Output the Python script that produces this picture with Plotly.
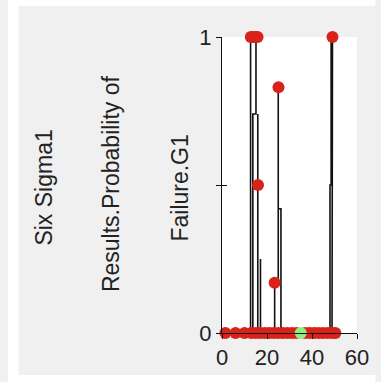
import plotly.graph_objects as go

# ---- data ----
# path of the black result line (run order)
line_x = [0, 12.7, 12.7, 15.1, 15.1, 13.7, 13.7, 15.9, 15.9, 15.9, 17.1, 17.1, 17.1,
          23.4, 23.4, 25.0, 25.0, 25.0, 26.2, 26.2, 48.0, 48.0, 48.5, 48.5, 49.1, 49.1,
          48.9, 48.9, 52]
line_y = [0, 0, 1, 1, 0.74, 0.74, 0, 0, 0.74, 0, 0, 0.25, 0,
          0, 0.17, 0.17, 0.83, 0.42, 0.42, 0, 0, 0.5, 0.5, 1, 1, 0.74,
          0.74, 0, 0]

# red points: zero results, then non-zero results
zero_x = [1.5, 6, 10, 13, 15, 17, 19, 21, 23, 25, 27, 29, 31, 33, 37, 39, 41, 43,
          45, 47, 49, 50.4]
hit_x = [12.8, 13.8, 14.8, 15.8, 16.0, 23.4, 25.1, 49.1]
hit_y = [1, 1, 1, 1, 0.5, 0.17, 0.83, 1]
point_x = zero_x + hit_x
point_y = [0] * len(zero_x) + hit_y

# highlighted point
mark_x = [35]
mark_y = [0]

x_ticks = [0, 20, 40, 60]
y_ticks = [0, 0.5, 1]
y_ticktext = ["0", "", "1"]
x_inner_ticks = [60]
y_inner_ticks = [0.5, 1]
title_lines = ["Six Sigma1", "Results.Probability of", "Failure.G1"]

W, H = 381, 382
L, R, T, B = 222, 19, 37, 49
PW, PH = W - L - R, H - T - B

def px2paper_x(px):
    return (px - L) / PW

def px2paper_y(py):
    return (H - B - py) / PH

FONT = "Liberation Sans, Arial, sans-serif"
RED = "#d9231a"

fig = go.Figure()
fig.add_trace(go.Scatter(x=line_x, y=line_y, mode="lines",
                         line=dict(color="#111111", width=1.6),
                         hoverinfo="skip", showlegend=False, cliponaxis=False))
fig.add_trace(go.Scatter(x=point_x, y=point_y, mode="markers",
                         marker=dict(color=RED, size=12, line=dict(width=0)),
                         showlegend=False, cliponaxis=False))
fig.add_trace(go.Scatter(x=mark_x, y=mark_y, mode="markers",
                         marker=dict(color="#8ef07e", size=12, line=dict(width=0)),
                         showlegend=False, cliponaxis=False))
# dummy trace to activate overlay axes (for crossing tick marks)
fig.add_trace(go.Scatter(x=mark_x, y=mark_y, xaxis="x2", yaxis="y2", mode="markers",
                         marker=dict(opacity=0), hoverinfo="skip", showlegend=False))

axis_common = dict(showgrid=False, zeroline=False, linecolor="#111111", linewidth=1,
                   tickcolor="#111111", tickwidth=1,
                   tickfont=dict(family=FONT, size=22, color="#222222"))

fig.update_layout(
    width=W, height=H,
    margin=dict(l=L, r=R, t=T, b=B, pad=0),
    paper_bgcolor="#f0f0f0",
    plot_bgcolor="#ffffff",
    xaxis=dict(range=[0, 60], tickvals=x_ticks, ticks="outside", ticklen=5,
               showline=True, **axis_common),
    yaxis=dict(range=[0, 1], tickvals=y_ticks, ticktext=y_ticktext, ticks="outside",
               ticklen=5, showline=True, **axis_common),
    xaxis2=dict(range=[0, 60], tickvals=x_inner_ticks, ticks="inside", ticklen=5,
                showticklabels=False, overlaying="x", anchor="y", side="bottom",
                showline=False, showgrid=False, zeroline=False, tickcolor="#111111"),
    yaxis2=dict(range=[0, 1], tickvals=y_inner_ticks, ticks="inside", ticklen=5,
                showticklabels=False, overlaying="y", anchor="x", side="left",
                showline=False, showgrid=False, zeroline=False, tickcolor="#111111"),
)

# white page strips around the grey panel
for (x0, x1, y0, y1) in [(0, 11, 0, H), (0, W, 0, 6), (0, W, 375, H)]:
    fig.add_shape(type="rect", xref="paper", yref="paper",
                  x0=px2paper_x(x0), x1=px2paper_x(x1),
                  y0=px2paper_y(y1), y1=px2paper_y(y0),
                  fillcolor="#ffffff", line=dict(width=0), layer="above")

# rotated title lines
for txt, cx, cy in zip(title_lines, [37, 107, 178], [188, 184, 188]):
    fig.add_annotation(text=txt, xref="paper", yref="paper",
                       x=px2paper_x(cx), y=px2paper_y(cy),
                       xanchor="center", yanchor="middle", textangle=-90,
                       showarrow=False,
                       font=dict(family=FONT, size=23, color="#222222"))

fig.write_html("out.html")
